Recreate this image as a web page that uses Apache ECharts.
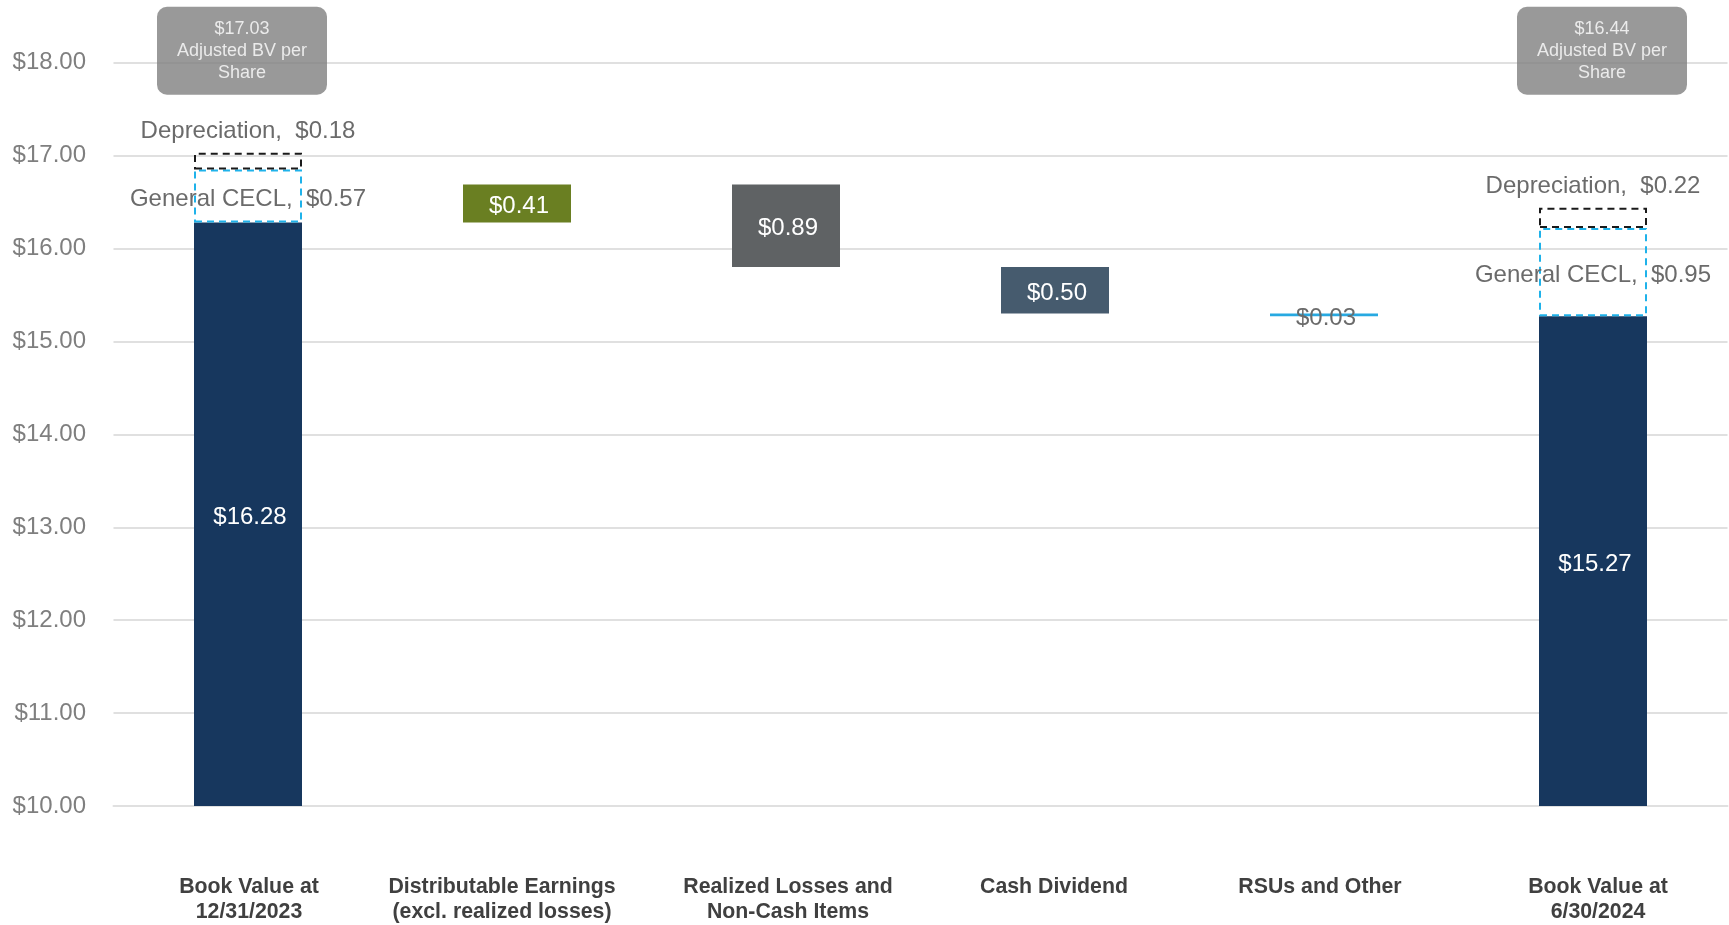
<!DOCTYPE html>
<html>
<head>
<meta charset="utf-8">
<script src="https://cdn.jsdelivr.net/npm/echarts@6/dist/echarts.min.js"></script>
<style>
  html, body { margin: 0; padding: 0; background: #ffffff; }
  #chart { width: 1729px; height: 925px; }
</style>
</head>
<body>
<div id="chart"></div>
<script>
// ---- Data ----
const categories = [
  'Book Value at\n12/31/2023',
  'Distributable Earnings\n(excl. realized losses)',
  'Realized Losses and\nNon-Cash Items',
  'Cash Dividend',
  'RSUs and Other',
  'Book Value at\n6/30/2024'
];
const startBookValue = 16.28;
const endBookValue = 15.27;
const changes = [0.41, -0.89, -0.50, -0.03];          // categories 1..4
const generalCecl = [0.57, 0.95];                     // first and last bar
const depreciation = [0.18, 0.22];                    // first and last bar
const adjustedBV = [17.03, 16.44];                    // first and last bar
const yTicks = [10, 11, 12, 13, 14, 15, 16, 17, 18];

// ---- Styles ----
const NAVY = '#17375e';
const changeColors = ['#6a7f22', '#5f6264', '#465b6e', '#27a9e1'];
const CYAN = '#1fb2ea';
const LABEL_GREY = '#6b6b6b';
const FONT = 'Liberation Sans, Arial, sans-serif';
const catLabelShift = [2, -30, 4, -2, -8, 10]; // horizontal padding nudges for category labels

// ---- Build waterfall from data ----
const n = categories.length;
const last = n - 1;
const baseData = new Array(n).fill('-');
const bookData = new Array(n).fill('-');
const changeData = new Array(n).fill('-');
bookData[0] = startBookValue;
bookData[last] = endBookValue;
baseData[0] = 0;
baseData[last] = 0;
let running = startBookValue;
changes.forEach((c, i) => {
  const idx = i + 1;
  const next = +(running + c).toFixed(2);
  baseData[idx] = Math.min(running, next);
  changeData[idx] = {
    value: Math.abs(c),
    itemStyle: { color: changeColors[i] },
    label: {
      color: Math.abs(c) < 0.1 ? LABEL_GREY : '#ffffff'
    }
  };
  running = next;
});
const ceclData = new Array(n).fill('-');
const deprData = new Array(n).fill('-');
ceclData[0] = generalCecl[0];
ceclData[last] = generalCecl[1];
deprData[0] = depreciation[0];
deprData[last] = depreciation[1];

const boxOffsets = [[-6, -12], [9, -12]];
const boxData = [
  { value: [categories[0], yTicks[yTicks.length - 1]], label: { offset: boxOffsets[0] }, bv: adjustedBV[0] },
  { value: [categories[last], yTicks[yTicks.length - 1]], label: { offset: boxOffsets[1] }, bv: adjustedBV[1] }
];

const xAxisData = categories.map((c, i) => {
  const s = catLabelShift[i];
  return {
    value: c,
    textStyle: { padding: s >= 0 ? [0, 0, 0, s] : [0, -s, 0, 0] }
  };
});

const money = v => '$' + Number(v).toFixed(2);

const chart = echarts.init(document.getElementById('chart'), null, { renderer: 'canvas' });
chart.setOption({
  animation: false,
  backgroundColor: '#ffffff',
  textStyle: { fontFamily: FONT },
  grid: { left: 113.5, right: 1.5, top: 62.7, bottom: 116.7 },
  xAxis: {
    type: 'category',
    data: xAxisData,
    axisTick: { show: false },
    axisLine: { show: true, lineStyle: { color: '#e0e0e0', width: 2 } },
    axisLabel: {
      interval: 0,
      margin: 69,
      fontSize: 21.3,
      fontWeight: 'bold',
      color: '#404040',
      lineHeight: 25,
      fontFamily: FONT
    }
  },
  yAxis: {
    type: 'value',
    min: yTicks[0],
    max: yTicks[yTicks.length - 1],
    interval: 1,
    axisLine: { show: false },
    axisTick: { show: false },
    splitLine: { lineStyle: { color: '#e0e0e0', width: 2 } },
    axisLabel: {
      formatter: v => money(v),
      fontSize: 24,
      color: '#7f7f7f',
      margin: 27.5,
      padding: [5, 0, 0, 0],
      fontFamily: FONT
    }
  },
  series: [
    {
      name: 'base',
      type: 'bar',
      stack: 'wf',
      barWidth: 108,
      itemStyle: { color: 'rgba(0,0,0,0)' },
      silent: true,
      data: baseData
    },
    {
      name: 'Book Value',
      type: 'bar',
      stack: 'wf',
      barWidth: 108,
      itemStyle: { color: NAVY },
      label: {
        show: true,
        position: 'inside',
        offset: [2, 3],
        color: '#ffffff',
        fontSize: 24,
        formatter: p => money(p.value),
        fontFamily: FONT
      },
      data: bookData
    },
    {
      name: 'Change',
      type: 'bar',
      stack: 'wf',
      barWidth: 108,
      label: {
        show: true,
        position: 'inside',
        offset: [2, 3],
        fontSize: 24,
        formatter: p => money(p.value),
        fontFamily: FONT
      },
      data: changeData
    },
    {
      name: 'General CECL',
      type: 'bar',
      stack: 'wf',
      barWidth: 108,
      itemStyle: {
        color: 'rgba(0,0,0,0)',
        borderColor: CYAN,
        borderWidth: 2,
        borderType: [7, 5]
      },
      label: {
        show: true,
        position: 'inside',
        offset: [0, 3],
        color: LABEL_GREY,
        fontSize: 24,
        formatter: p => 'General CECL,  ' + money(p.value),
        fontFamily: FONT
      },
      data: ceclData
    },
    {
      name: 'Depreciation',
      type: 'bar',
      stack: 'wf',
      barWidth: 108,
      itemStyle: {
        color: 'rgba(0,0,0,0)',
        borderColor: '#1a1a1a',
        borderWidth: 2,
        borderType: [7, 5]
      },
      label: {
        show: true,
        position: 'top',
        distance: 9,
        color: LABEL_GREY,
        fontSize: 24,
        formatter: p => 'Depreciation,  ' + money(p.value),
        fontFamily: FONT
      },
      data: deprData
    },
    {
      name: 'Adjusted BV',
      type: 'scatter',
      clip: false,
      symbolSize: 1,
      itemStyle: { color: 'rgba(0,0,0,0)' },
      silent: true,
      label: {
        show: true,
        position: 'inside',
        formatter: p => money(p.data.bv) + '\nAdjusted BV per\nShare',
        color: '#ffffff',
        fontSize: 18,
        lineHeight: 22,
        align: 'center',
        verticalAlign: 'middle',
        backgroundColor: '#808080',
        borderRadius: 10,
        width: 170,
        padding: [12, 0, 10, 0],
        fontFamily: FONT
      },
      data: boxData
    }
  ]
});
</script>
</body>
</html>
